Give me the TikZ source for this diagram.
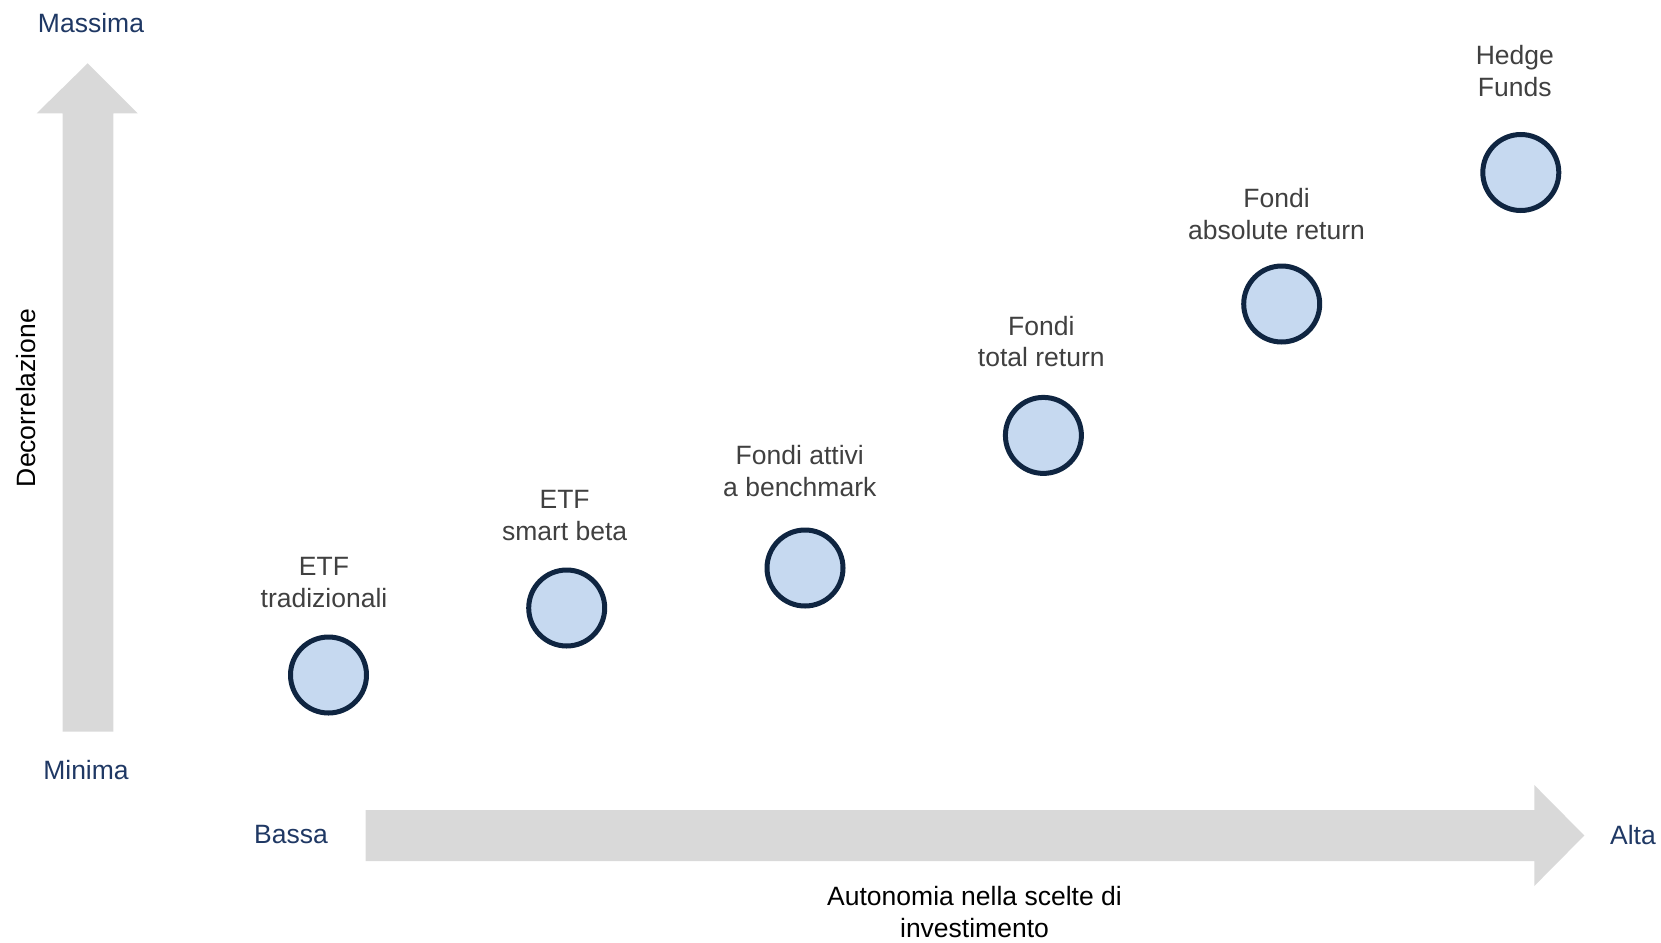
\documentclass[tikz,border=0pt]{standalone}
\usepackage{fontspec}
\setmainfont{Liberation Sans}
\definecolor{arrowgray}{HTML}{D9D9D9}
\definecolor{axisblue}{HTML}{1F3864}
\definecolor{labelgray}{HTML}{404040}
\definecolor{circfill}{HTML}{C6D9F0}
\definecolor{circline}{HTML}{0F2541}
\begin{document}
\begin{tikzpicture}[x=1bp,y=-1bp,
  bigarrow/.style={fill=arrowgray,draw=none},
  dot/.style={circle,fill=circfill,draw=circline,line width=5bp,minimum size=76bp,inner sep=0pt},
  lab/.style={text=labelgray,align=center,font=\fontsize{26.5bp}{31.8bp}\selectfont,inner sep=0pt},
  axlab/.style={text=axisblue,font=\fontsize{26.5bp}{30bp}\selectfont,inner sep=0pt},
  title/.style={text=black,align=center,font=\fontsize{26.5bp}{31.8bp}\selectfont,inner sep=0pt}]
\useasboundingbox (0,0) rectangle (1661,942);
% vertical arrow
\fill[bigarrow] (62.5,731.5) -- (62.5,113.3) -- (36.7,113.3) -- (87.7,63.3) -- (137.7,113.3) -- (113.3,113.3) -- (113.3,731.5) -- cycle;
% horizontal arrow
\fill[bigarrow] (365.7,810) -- (1534.3,810) -- (1534.3,785) -- (1584.3,835.5) -- (1534.3,886) -- (1534.3,861) -- (365.7,861) -- cycle;
% axis labels
\node[axlab] (massima) at (91,23.5) {Massima};
\node[axlab] (minima) at (86,770) {Minima};
\node[axlab] (bassa) at (291,835) {Bassa};
\node[axlab] (alta) at (1633,835) {Alta};
\node[title,rotate=90] (decor) at (26.5,398) {Decorrelazione};
\node[title] (auton) at (974.5,912) {Autonomia nella scelte di\\investimento};
% circles
\node[dot] (c1) at (328.5,675) {};
\node[dot] (c2) at (566.7,608) {};
\node[dot] (c3) at (805,568) {};
\node[dot] (c4) at (1043.4,435.4) {};
\node[dot] (c5) at (1281.7,304) {};
\node[dot] (c6) at (1520.8,172.5) {};
% labels
\node[lab] (l1) at (324,582.6) {ETF\\tradizionali};
\node[lab] (l2) at (564.6,515.9) {ETF\\smart beta};
\node[lab] (l3) at (799.8,471.4) {Fondi attivi\\a benchmark};
\node[lab] (l4) at (1041.3,341.6) {Fondi\\total return};
\node[lab] (l5) at (1276.5,214) {Fondi\\absolute return};
\node[lab] (l6) at (1514.8,71) {Hedge\\Funds};
\end{tikzpicture}
\end{document}
